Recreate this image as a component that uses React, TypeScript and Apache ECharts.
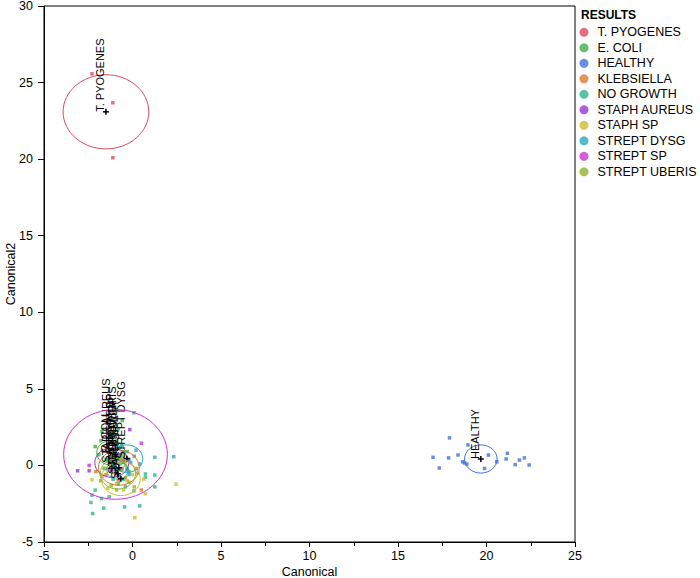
import React, { useEffect, useRef } from "react";
import * as echarts from "echarts";

const FONT = "'Liberation Sans', Arial, Helvetica, sans-serif";

const GROUPS = [
  "T. PYOGENES",
  "E. COLI",
  "HEALTHY",
  "KLEBSIELLA",
  "NO GROWTH",
  "STAPH AUREUS",
  "STAPH SP",
  "STREPT DYSG",
  "STREPT SP",
  "STREPT UBERIS",
];

const COLORS = [
  "#D94B5C",
  "#3DAF47",
  "#4470D9",
  "#D97A2E",
  "#30B48C",
  "#9A35D6",
  "#CCBE2C",
  "#2BA8C2",
  "#CF33CF",
  "#8DB52C",
];

// Canonical scores per group: [Canonical, Canonical2]
const tPyogenes = [[-2.29, 25.57], [-1.11, 23.68], [-1.11, 20.09]];
const eColi = [
  [-2.11, 1.23], [-1.73, 2.21], [-0.58, 2.93], [-1.3, 1.9], [-0.9, 1.6], [-1.5, 0.4],
  [-1.1, 0.9], [-0.7, 1.2], [-1.4, 1.4], [-0.5, 0.3], [-1.9, 0.7], [-1.0, 0.2],
  [-0.8, 2.4], [-1.6, -0.2], [-0.3, 0.9], [-1.2, 0.5], [-0.2, -0.4], [-1.05, 2.05],
];
const healthy = [
  [17.91, 1.8], [16.98, 0.53], [17.33, -0.17], [17.86, 0.49], [18.39, 0.68], [18.65, 0.24],
  [18.76, 0.16], [18.89, 0.09], [18.95, 1.34], [20.11, 0.68], [19.89, -0.2], [20.58, 0.24],
  [21.18, 0.79], [21.11, 0.42], [21.62, 0.05], [21.86, 0.35], [22.14, 0.49], [22.41, 0.03],
];
const klebsiella = [
  [-2.07, -0.41], [-1.41, 1.18], [-1.0, -0.3], [-0.6, 0.3], [-1.2, 0.6], [-0.4, -0.8],
  [-0.8, -1.0], [0.2, -0.2], [-1.5, -0.6], [0.5, -1.6],
];
const noGrowth = [
  [-2.11, -1.61], [-2.29, -1.94], [-1.75, -2.16], [-1.32, -2.05], [-2.35, -2.42], [-1.63, -2.79],
  [-2.25, -3.14], [0.73, -0.56], [0.73, -0.78], [1.26, -0.63], [1.26, -1.4], [-0.45, -2.71],
  [0.41, -2.64], [0.08, -1.66], [-1.79, 1.62], [-0.98, 2.82], [-1.0, 0.6], [-0.7, 0.1],
  [-1.2, -0.4], [-0.5, -0.9], [-0.9, 1.1], [-1.4, 0.3], [-0.3, -0.3], [-0.8, -1.2],
  [-1.1, -0.9], [-0.6, 0.8], [-0.2, 0.4], [-1.3, 1.5], [-0.4, -1.4], [-0.9, -0.6],
];
const staphAureus = [
  [-3.1, -0.35], [-2.45, -0.35], [-0.15, 2.34], [-1.04, 1.29], [-1.3, 0.5], [-0.6, -0.2],
  [-1.0, 0.0], [-0.8, 0.4], [-0.5, 0.2], [-1.2, -0.3], [-0.7, 0.7], [-0.9, -0.5],
];
const staphSp = [
  [-2.29, -0.94], [0.73, -1.84], [2.46, -1.22], [0.13, -3.41], [0.64, -0.89], [-1.4, -1.5],
  [-0.9, -1.2], [-0.3, -1.0], [-1.1, -0.5], [-0.5, -1.6], [-1.7, -0.7], [0.0, -0.6],
];
const streptDysg = [
  [0.08, 3.44], [1.26, 0.53], [2.33, 0.57], [-0.5, 0.9], [-0.1, 0.2], [-0.7, 0.5],
  [0.2, 1.0], [-0.3, -0.2], [-0.9, 0.3], [0.4, 0.1], [-0.6, 1.3], [-0.2, -0.6],
  [-1.0, -0.1], [0.1, 0.6],
];
const streptSp = [[-2.45, 0.0], [0.5, 1.45]];
const streptUberis = [
  [-1.2, -1.3], [-0.7, -0.8], [-0.2, -1.1], [-1.5, -0.2], [-0.4, 0.0], [-0.9, -1.6],
  [0.3, -0.5], [-1.3, 0.2], [-0.6, -0.3], [0.1, -1.4], [-1.8, -1.0], [-0.5, 0.6],
];

const POINTS = [
  tPyogenes, eColi, healthy, klebsiella, noGrowth,
  staphAureus, staphSp, streptDysg, streptSp, streptUberis,
];

// Group means and 95% confidence circle radii (canonical units)
const CENTROID_X = [-1.5, -1.22, 19.68, -0.77, -0.85, -1.17, -0.66, -0.32, -0.96, -0.83];
const CENTROID_Y = [23.09, 0.83, 0.42, -0.15, -0.3, 0.18, -0.87, 0.44, 0.72, -0.54];
const RADIUS = [2.42, 0.8, 0.92, 1.15, 0.6, 0.96, 1.1, 0.9, 2.93, 1.0];

const X_MIN = -5, X_MAX = 25, Y_MIN = -5, Y_MAX = 30, TICK = 5;

export default function App() {
  const ref = useRef<HTMLDivElement>(null);
  useEffect(() => {
    if (!ref.current) return;
    const chart = echarts.init(ref.current, undefined, { renderer: "svg" });

    const scatterSeries = GROUPS.map((name, i) => ({
      name,
      type: "scatter",
      data: POINTS[i],
      symbol: "rect",
      symbolSize: 3.5,
      itemStyle: { color: COLORS[i] },
      z: 2,
    }));

    const circleData = GROUPS.map((_, i) => [CENTROID_X[i], CENTROID_Y[i], RADIUS[i], i]);

    const option: any = {
      animation: false,
      backgroundColor: "#fff",
      textStyle: { fontFamily: FONT },
      title: {
        text: "RESULTS",
        left: 581,
        top: 9,
        padding: 0,
        textStyle: { fontSize: 12, fontWeight: "bold", color: "#000", fontFamily: FONT },
      },
      legend: {
        orient: "vertical",
        left: 579.5,
        top: 25.3,
        padding: 0,
        itemGap: 1.5,
        itemWidth: 9,
        itemHeight: 9,
        icon: "circle",
        data: GROUPS,
        textStyle: { fontSize: 12.5, color: "#000", fontFamily: FONT, lineHeight: 14, padding: [0, 0, 0, 4] },
      },
      grid: {
        left: 44,
        top: 6,
        width: 531,
        height: 536,
        show: true,
        borderColor: "#000",
        borderWidth: 1,
        containLabel: false,
        outerBoundsMode: "none",
      },
      xAxis: {
        type: "value",
        min: X_MIN,
        max: X_MAX,
        interval: TICK,
        name: "Canonical",
        nameLocation: "middle",
        nameGap: 23,
        nameMoveOverlap: false,
        nameTextStyle: { fontSize: 12.5, color: "#000", fontFamily: FONT },
        axisLine: { show: true, onZero: false, lineStyle: { color: "#000", width: 1 } },
        axisTick: { show: true, inside: false, length: 5, lineStyle: { color: "#000" } },
        minorTick: { show: true, splitNumber: 2, length: 4, lineStyle: { color: "#000" } },
        axisLabel: { fontSize: 12.5, color: "#000", margin: 7, fontFamily: FONT },
        splitLine: { show: false },
      },
      yAxis: {
        type: "value",
        min: Y_MIN,
        max: Y_MAX,
        interval: TICK,
        name: "Canonical2",
        nameLocation: "middle",
        nameGap: 27,
        nameMoveOverlap: false,
        nameRotate: 90,
        nameTextStyle: { fontSize: 12.5, color: "#000", fontFamily: FONT },
        axisLine: { show: true, onZero: false, lineStyle: { color: "#000", width: 1 } },
        axisTick: { show: true, inside: false, length: 6, lineStyle: { color: "#000" } },
        axisLabel: { fontSize: 12.5, color: "#000", margin: 11, fontFamily: FONT },
        splitLine: { show: false },
      },
      series: [
        ...scatterSeries,
        {
          name: "circles",
          type: "custom",
          coordinateSystem: "cartesian2d",
          data: circleData,
          encode: { x: 0, y: 1 },
          z: 5,
          silent: true,
          renderItem: (_params: any, api: any) => {
            const i = api.value(3);
            const c = api.coord([api.value(0), api.value(1)]);
            const s = api.size([api.value(2), api.value(2)]);
            return {
              type: "group",
              children: [
                {
                  type: "ellipse",
                  shape: { cx: c[0], cy: c[1], rx: s[0], ry: s[1] },
                  style: { fill: "none", stroke: COLORS[i], lineWidth: 1 },
                },
                {
                  type: "line",
                  shape: { x1: c[0] - 3, y1: c[1], x2: c[0] + 3, y2: c[1] },
                  style: { stroke: "#000", lineWidth: 1.5 },
                },
                {
                  type: "line",
                  shape: { x1: c[0], y1: c[1] - 3, x2: c[0], y2: c[1] + 3 },
                  style: { stroke: "#000", lineWidth: 1.5 },
                },
                {
                  type: "text",
                  x: c[0],
                  y: c[1],
                  rotation: Math.PI / 2,
                  style: {
                    text: GROUPS[i],
                    align: "left",
                    verticalAlign: "bottom",
                    fontSize: 11,
                    fontFamily: FONT,
                    fill: "#000",
                  },
                },
              ],
            };
          },
        },
      ],
    };

    chart.setOption(option);
    return () => chart.dispose();
  }, []);

  return (
    <div
      ref={ref}
      style={{ position: "fixed", left: 0, top: 0, width: 700, height: 578, background: "#fff" }}
    />
  );
}
